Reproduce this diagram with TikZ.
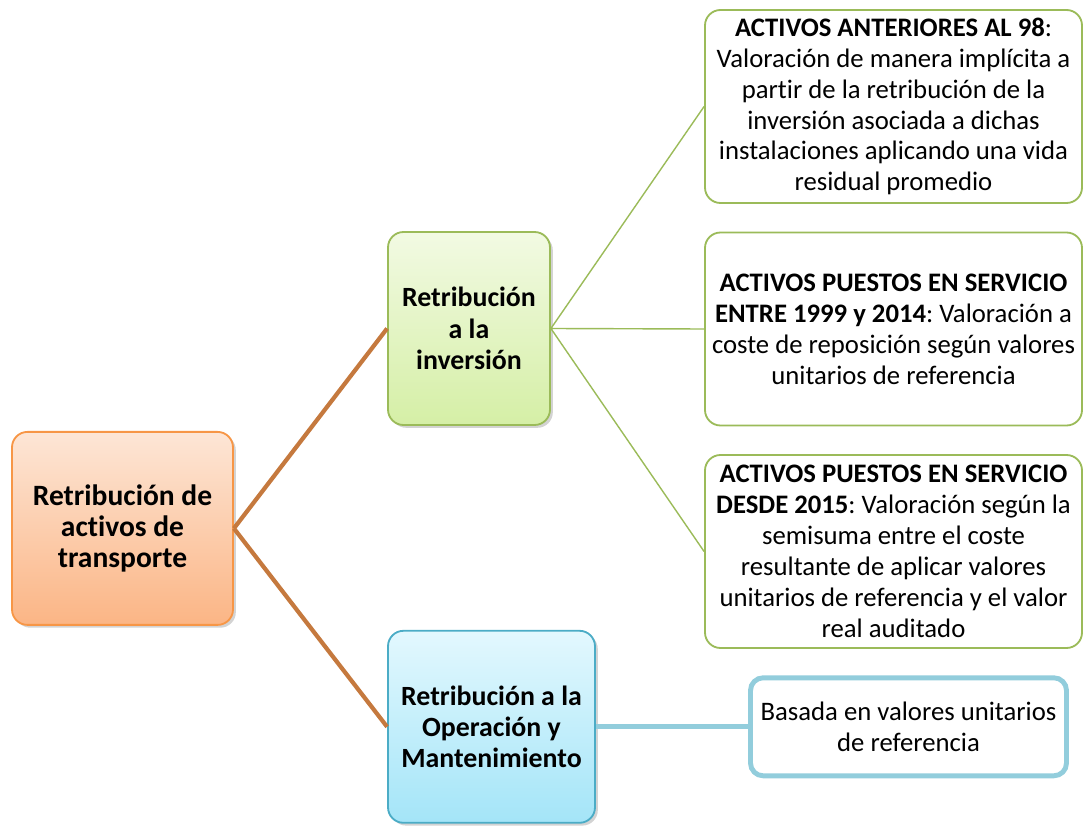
\documentclass[tikz,border=0pt]{standalone}
\usepackage{fontspec}
\setmainfont{Carlito}[Ligatures=NoCommon]
\usetikzlibrary{positioning, shadows}
\definecolor{rtorange}{HTML}{F79646}
\definecolor{rtorangetop}{HTML}{FDE6D6}
\definecolor{rtorangebot}{HTML}{FBB585}
\definecolor{rtgreen}{HTML}{9BBB59}
\definecolor{rtgreentop}{HTML}{F2FAE3}
\definecolor{rtgreenbot}{HTML}{D5EFA6}
\definecolor{rtblue}{HTML}{4BACC6}
\definecolor{rtbluetop}{HTML}{E3F8FE}
\definecolor{rtbluebot}{HTML}{A4E5F8}
\definecolor{rtlightblue}{HTML}{92CDDC}
\definecolor{rtbrown}{HTML}{C5793E}
\frenchspacing

\begin{document}
\begin{tikzpicture}[
  every node/.style={font=\fontsize{19}{22}\selectfont},
  topbox/.style={rectangle, rounded corners=11pt, draw, line width=1.3pt, align=center, font=\fontsize{19.8}{22.3}\selectfont\bfseries, drop shadow={opacity=0.35, shadow xshift=2pt, shadow yshift=-2pt}},
  leafbox/.style={rectangle, rounded corners=11pt, draw=rtgreen, line width=1.3pt, fill=white, align=center, minimum width=9.425cm, minimum height=4.825cm},
  branch/.style={line width=3pt, rtbrown},
  twig/.style={line width=1pt, rtgreen},
]
\useasboundingbox (0,0) rectangle (27.1,-20.65);

% Main boxes
\node[topbox, draw=rtorange, top color=rtorangetop, bottom color=rtorangebot, minimum width=5.525cm, minimum height=4.825cm, font=\fontsize{21}{22.3}\selectfont\bfseries] (root) at (3.0625, -13.21) {Retribución de\\activos de\\transporte};
\node[topbox, draw=rtgreen, top color=rtgreentop, bottom color=rtgreenbot, minimum width=4.05cm, minimum height=4.825cm] (inv) at (11.725, -8.2125) {Retribución\\a la\\inversión};
\node[topbox, draw=rtblue, top color=rtbluetop, bottom color=rtbluebot, minimum width=5.175cm, minimum height=4.8cm] (om) at (12.2875, -18.17) {Retribución a la\\Operación y\\Mantenimiento};

% Leaves
\node[leafbox] (pre98) at (22.3375, -2.6625) {\textbf{ACTIVOS ANTERIORES AL 98}:\\Valoración de manera implícita a\\partir de la retribución de la\\inversión asociada a dichas\\instalaciones aplicando una vida\\residual promedio};
\node[leafbox] (mid) at (22.3375, -8.225) {\textbf{ACTIVOS PUESTOS EN SERVICIO}\\\textbf{ENTRE 1999 y 2014}: Valoración a\\coste de reposición según valores\\unitarios de referencia};
\node[leafbox] (post15) at (22.3375, -13.7875) {\textbf{ACTIVOS PUESTOS EN SERVICIO}\\\textbf{DESDE 2015}: Valoración según la\\semisuma entre el coste\\resultante de aplicar valores\\unitarios de referencia y el valor\\real auditado};
\node[rectangle, rounded corners=9pt, draw=rtlightblue, line width=3.5pt, fill=white, align=center, minimum width=7.9cm, minimum height=2.45cm] (unit) at (22.7125, -18.17) {Basada en valores unitarios\\de referencia};

% Connectors
\draw[branch] (root.east) -- (inv.west);
\draw[branch] (root.east) -- (om.west);
\draw[twig] (inv.east) -- (pre98.west);
\draw[twig] (inv.east) -- (mid.west);
\draw[twig] (inv.east) -- (post15.west);
\draw[line width=3.5pt, rtlightblue] (om.east) -- (unit.west);

\end{tikzpicture}
\end{document}
